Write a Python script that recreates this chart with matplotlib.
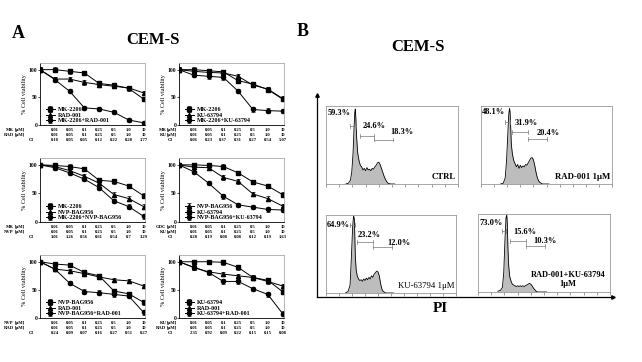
import numpy as np
import matplotlib
matplotlib.use("Agg")
import matplotlib.pyplot as plt
import matplotlib.transforms as mtransforms

plt.rcParams['font.family'] = ['Liberation Serif', 'DejaVu Serif']
plt.rcParams['font.weight'] = 'bold'

# ------------------------
# data: panel A (cell viability, % of control)
# ------------------------
doses = ["0.01", "0.05", "0.1", "0.25", "0.5", "1.0", "10"]
xpos = [0, 1, 2, 3, 4, 5, 6, 7]   # 0 = untreated control
err = 4

a1_mk = [100, 100, 97, 94, 75, 72, 66, 47]
a1_rad = [100, 83, 83, 77, 73, 70, 67, 58]
a1_combo = [100, 82, 61, 31, 29, 23, 9, 4]
a1_ci = ["0.18", "0.05", "0.05", "0.12", "0.22", "0.28", "1.77"]

a2_mk = [100, 100, 98, 96, 80, 74, 64, 47]
a2_ku = [100, 97, 95, 94, 88, 72, 65, 48]
a2_combo = [100, 90, 88, 86, 61, 28, 26, 25]
a2_ci = ["0.06", "0.23", "0.37", "0.31", "0.27", "0.54", "5.07"]

a3_mk = [100, 99, 97, 93, 73, 71, 63, 46]
a3_nvp = [100, 97, 90, 80, 68, 48, 41, 27]
a3_combo = [100, 95, 86, 75, 60, 37, 27, 10]
a3_ci = ["3.01", "1.26", "0.56", "0.61", "0.54", "0.7", "3.29"]

a4_nvp = [100, 96, 95, 78, 71, 49, 41, 28]
a4_ku = [100, 100, 99, 97, 86, 70, 63, 48]
a4_combo = [100, 88, 68, 45, 30, 26, 22, 21]
a4_ci = ["0.28", "0.19", "0.08", "0.08", "0.12", "0.19", "1.63"]

a5_nvp = [100, 96, 94, 81, 75, 48, 43, 28]
a5_rad = [100, 87, 84, 79, 73, 68, 66, 57]
a5_combo = [100, 87, 62, 47, 45, 42, 39, 10]
a5_ci = ["0.24", "0.09", "0.07", "0.16", "0.27", "0.51", "0.27"]

a6_ku = [100, 100, 100, 99, 90, 72, 67, 47]
a6_rad = [100, 90, 82, 78, 75, 72, 65, 57]
a6_combo = [100, 90, 81, 65, 65, 52, 42, 8]
a6_ci = ["2.35", "0.92", "0.09", "0.22", "0.15", "0.15", "0.08"]

# ------------------------
# data: panel B (PI histograms, channel vs relative count)
# ------------------------
hist_ch = [150, 170, 185, 195, 205, 212, 218, 222, 226, 232, 240, 250, 260, 270, 280,
           290, 300, 310, 320, 330, 340, 350, 360, 370, 380, 390, 400, 410, 420, 430,
           440, 450, 460, 470, 480, 490, 500, 520]
h_ctrl = [0, 1, 5, 15, 40, 70, 92, 96, 85, 60, 40, 30, 24, 22, 18, 20, 17, 21, 18, 19,
          17, 20, 19, 22, 24, 27, 28, 25, 20, 15, 10, 6, 3, 1, 0.5, 0, 0, 0]
h_rad = [0, 1, 8, 30, 65, 90, 97, 92, 75, 50, 38, 30, 26, 22, 25, 20, 24, 21, 23, 22,
         25, 24, 27, 30, 33, 34, 31, 24, 15, 8, 4, 2, 1, 0, 0, 0, 0, 0]
h_ku = [0, 2, 10, 45, 85, 99, 95, 70, 45, 30, 22, 18, 16, 17, 15, 18, 16, 19, 17, 20,
        18, 22, 20, 24, 26, 28, 27, 22, 12, 5, 2, 1, 0, 0, 0, 0, 0, 0]
h_combo = [1, 2, 6, 25, 70, 95, 99, 88, 60, 35, 20, 14, 10, 9, 8, 7, 8, 7, 8, 7,
           8, 7, 8, 9, 10, 11, 10, 8, 5, 3, 1, 0, 0, 0, 0, 0, 0, 0]

W, H = 642, 362


def box(l, t, r, b):
    return [l / W, 1 - b / H, (r - l) / W, (b - t) / H]


fig = plt.figure(figsize=(W / 100, H / 100), dpi=100)

# ------------------------
# panel A
# ------------------------
# table label offsets (px left of axis): drug name right edge, "[μM]" left edge
left_col = (-26, -25)
right_col = (-12.5, -12)

charts = [
    (box(40, 63, 145, 125), left_col, ("MK", "RAD"), a1_ci,
     [(a1_mk, "s", "MK-2206"), (a1_rad, "^", "RAD-001"), (a1_combo, "o", "MK-2206+RAD-001")]),
    (box(179, 63, 284, 125), right_col, ("MK", "KU"), a2_ci,
     [(a2_mk, "s", "MK-2206"), (a2_ku, "^", "KU-63794"), (a2_combo, "o", "MK-2206+KU-63794")]),
    (box(40, 158, 145, 222), left_col, ("MK", "NVP"), a3_ci,
     [(a3_mk, "s", "MK-2206"), (a3_nvp, "^", "NVP-BAG956"), (a3_combo, "o", "MK-2206+NVP-BAG956")]),
    (box(179, 158, 284, 222), right_col, ("GDC", "KU"), a4_ci,
     [(a4_nvp, "^", "NVP-BAG956"), (a4_ku, "s", "KU-63794"), (a4_combo, "o", "NVP-BAG956+KU-63794")]),
    (box(40, 255, 145, 318), left_col, ("NVP", "RAD"), a5_ci,
     [(a5_nvp, "s", "NVP-BAG956"), (a5_rad, "^", "RAD-001"), (a5_combo, "o", "NVP-BAG956+RAD-001")]),
    (box(179, 255, 284, 318), right_col, ("KU", "RAD"), a6_ci,
     [(a6_ku, "s", "KU-63794"), (a6_rad, "^", "RAD-001"), (a6_combo, "o", "KU-63794+RAD-001")]),
]

for rect, offs, drugs, ci, series in charts:
    ax = fig.add_axes(rect)
    axw = rect[2] * W
    axh = rect[3] * H
    for vals, mk, lab in series:
        ax.errorbar(xpos, vals, yerr=err, color="black", marker=mk, ms=3, lw=0.7,
                    elinewidth=0.5, capsize=1.2, capthick=0.5, label=lab)
    ax.set_xlim(0, 7.1)
    ax.set_ylim(0, 112)
    ax.set_xticks([])
    ax.set_yticks([0, 50, 100])
    ax.tick_params(axis="y", labelsize=4, length=1.5, width=0.5, pad=0.5)
    for s in ["top", "right"]:
        ax.spines[s].set_color("#aaaaaa")
    for s in ax.spines.values():
        s.set_linewidth(0.6)
    ax.set_ylabel("% Cell viability", fontsize=4.5, labelpad=1)
    ax.legend(loc="lower left", bbox_to_anchor=(0.02, -0.03), frameon=False,
              fontsize=4.3, handlelength=1.6, labelspacing=0.05,
              handletextpad=0.5, borderaxespad=0.2)
    # dose / CI table under the axis
    trans = mtransforms.blended_transform_factory(ax.transData, ax.transAxes)
    rows = [(drugs[0], doses), (drugs[1], doses), ("CI", ci)]
    for k, (name, vals) in enumerate(rows):
        yy = -(5 + 5 * k) / axh
        if name == "CI":
            ax.text(-6 / axw, yy, name, transform=ax.transAxes, fontsize=3.3,
                    ha="right", va="center")
        else:
            ax.text(offs[0] / axw, yy, name, transform=ax.transAxes, fontsize=3.3,
                    ha="right", va="center")
            ax.text(offs[1] / axw, yy, "[μM]", transform=ax.transAxes, fontsize=3.3,
                    ha="left", va="center")
        for j, v in enumerate(vals):
            ax.text(xpos[j + 1], yy, v, transform=trans, fontsize=3.3,
                    ha="center", va="center")

fig.text(18 / W, 1 - 33 / H, "A", fontsize=13, ha="center", va="center")
fig.text(153 / W, 1 - 40 / H, "CEM-S", fontsize=12, ha="center", va="center")
fig.text(303 / W, 1 - 31 / H, "B", fontsize=13, ha="center", va="center")
fig.text(418 / W, 1 - 47 / H, "CEM-S", fontsize=12, ha="center", va="center")

# ------------------------
# panel B
# ------------------------
axb = fig.add_axes(box(317, 95, 613, 297))
axb.set_xticks([])
axb.set_yticks([])
axb.patch.set_alpha(0)
for s in ["top", "right"]:
    axb.spines[s].set_visible(False)
for s in ["left", "bottom"]:
    axb.spines[s].set_linewidth(0.9)
axb.plot([0], [1], marker="^", ms=2.5, color="black", transform=axb.transAxes, clip_on=False)
axb.plot([1], [0], marker=">", ms=2.5, color="black", transform=axb.transAxes, clip_on=False)
fig.text(440 / W, 1 - 309 / H, "PI", fontsize=11, ha="center", va="center")

hists = [
    (box(326, 106, 458, 184), h_ctrl, ("59.3%", "24.6%", "18.3%"), "CTRL", "bold",
     dict(p1=(15, 91), g1=(182, 227, 74), s=(258, 364, 61), st=(280, 74), g2=(364, 508, 57), gt=(485, 67))),
    (box(481, 106, 612, 184), h_rad, ("48.1%", "31.9%", "20.4%"), "RAD-001 1μM", "bold",
     dict(p1=(8, 92), g1=(183, 221, 79), s=(237, 359, 67), st=(260, 78), g2=(359, 504, 58), gt=(427, 65))),
    (box(326, 215, 456, 293), h_ku, ("64.9%", "23.2%", "12.0%"), "KU-63794 1μM", "normal",
     dict(p1=(8, 87), g1=(185, 225, 87), s=(238, 362, 65), st=(246, 74), g2=(362, 508, 59), gt=(469, 64))),
    (box(478, 214, 610, 292), h_combo, ("73.0%", "15.6%", "10.3%"), "RAD-001+KU-63794\n1μM", "bold",
     dict(p1=(8, 88), g1=(180, 215, 78), s=(242, 364, 65), st=(265, 77), g2=(364, 508, 59), gt=(417, 65))),
]

for rect, h, pcts, label, wt, pos in hists:
    ax = fig.add_axes(rect)
    ax.fill_between(hist_ch, h, color="#bdbdbd", lw=0)
    ax.plot(hist_ch, h, color="black", lw=0.6)
    ax.set_xlim(0, 1000)
    ax.set_ylim(0, 100)
    ax.set_xticks(np.arange(0, 1001, 100))
    ax.set_xticklabels([])
    ax.set_yticks([])
    ax.tick_params(axis="x", length=2, width=0.5, color="#777777", direction="out")
    for s in ax.spines.values():
        s.set_color("#999999")
        s.set_linewidth(0.6)
    # gate brackets
    for key in ["g1", "s", "g2"]:
        x0, x1, yy = pos[key]
        ax.plot([x0, x1], [yy, yy], color="#777777", lw=0.5)
        ax.plot([x0, x0], [yy - 2.5, yy + 2.5], color="#777777", lw=0.5)
        ax.plot([x1, x1], [yy - 2.5, yy + 2.5], color="#777777", lw=0.5)
    ax.text(pos["p1"][0], pos["p1"][1], pcts[0], fontsize=6, ha="left", va="center")
    ax.text(pos["st"][0], pos["st"][1], pcts[1], fontsize=6, ha="left", va="center")
    ax.text(pos["gt"][0], pos["gt"][1], pcts[2], fontsize=6, ha="left", va="center")
    if "\n" in label:
        ax.text(680, 16, label, fontsize=6, ha="center", va="center", weight=wt,
                linespacing=1.3)
    else:
        ax.text(985, 4, label, fontsize=6.3, ha="right", va="bottom", weight=wt)

fig.savefig("out.png", dpi=100)
